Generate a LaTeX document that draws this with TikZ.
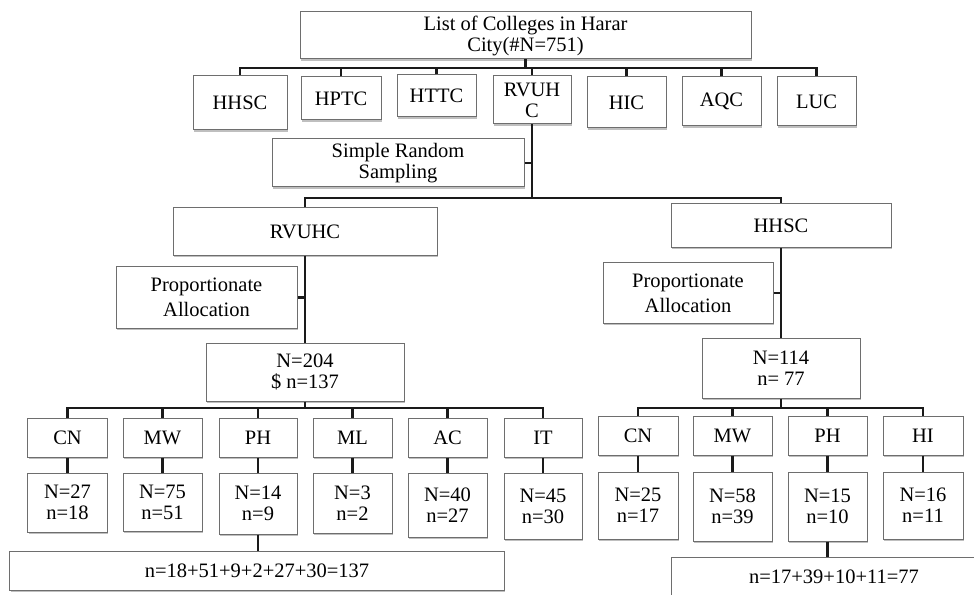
\documentclass[tikz,border=0pt]{standalone}
\usepackage{fontspec}
\setmainfont{Liberation Serif}
\usetikzlibrary{shadows}
\definecolor{boxline}{HTML}{6E6E6E}
\definecolor{conline}{HTML}{1A1A1A}
\tikzset{
  box/.style={draw=boxline, line width=1bp, fill=white, align=center, inner sep=1bp,
    font=\fontsize{20.5bp}{21bp}\selectfont,
    drop shadow={shadow xshift=1.4bp, shadow yshift=-2bp, fill=black, opacity=0.25}},
  loose/.style={font=\fontsize{20.5bp}{25bp}\selectfont},
  conn/.style={draw=conline, line width=2.4bp},
}
\begin{document}
\begin{tikzpicture}[x=1bp,y=-1bp]
\useasboundingbox (0,0) rectangle (974,595);
\clip (0,0) rectangle (974,595);
% level 0
\node[box, minimum width=451bp, minimum height=47bp] (top) at (525.5,35.5) {List of Colleges in Harar\\ City(\#N=751)};
% level 1
\node[box, minimum width=94bp, minimum height=54bp] (hhsc1) at (240,103) {HHSC};
\node[box, minimum width=80bp, minimum height=43bp] (hptc) at (341,98.5) {HPTC};
\node[box, minimum width=79bp, minimum height=42bp] (httc) at (436.5,96) {HTTC};
\node[box, minimum width=78bp, minimum height=48bp] (rv1) at (532,100) {RVUH\\C};
\node[box, minimum width=79bp, minimum height=51bp] (hic) at (626.5,102.5) {HIC};
\node[box, minimum width=79bp, minimum height=49bp] (aqc) at (721.5,101.5) {AQC};
\node[box, minimum width=79bp, minimum height=49bp] (luc) at (816.5,101.5) {LUC};
% sampling
\node[box, minimum width=252bp, minimum height=48bp] (srs) at (398,163) {Simple Random\\ Sampling};
\node[box, minimum width=264bp, minimum height=47bp] (rv2) at (305,231.5) {RVUHC};
\node[box, minimum width=220bp, minimum height=43bp] (hh2) at (781,225.5) {HHSC};
\node[box, loose, minimum width=181bp, minimum height=61bp] (pal) at (206.5,297.5) {Proportionate\\ Allocation};
\node[box, loose, minimum width=170bp, minimum height=60bp] (par) at (688,293) {Proportionate\\ Allocation};
\node[box, minimum width=198bp, minimum height=58bp] (n204) at (305,372) {N=204\\ \$ n=137};
\node[box, minimum width=158bp, minimum height=60bp] (n114) at (781,368) {N=114\\ n= 77};
% left strata
\node[box, minimum width=79bp, minimum height=39bp] (lcn) at (67.5,437.5) {CN};
\node[box, minimum width=79bp, minimum height=39bp] (lmw) at (162.5,437.5) {MW};
\node[box, minimum width=78bp, minimum height=39bp] (lph) at (258,437.5) {PH};
\node[box, minimum width=79bp, minimum height=39bp] (lml) at (352.5,437.5) {ML};
\node[box, minimum width=79bp, minimum height=39bp] (lac) at (447.5,437.5) {AC};
\node[box, minimum width=78bp, minimum height=39bp] (lit) at (543,437.5) {IT};
\node[box, minimum width=79bp, minimum height=59bp] (lcnN) at (67.5,502.5) {N=27\\ n=18};
\node[box, minimum width=79bp, minimum height=58bp] (lmwN) at (162.5,502) {N=75\\ n=51};
\node[box, minimum width=78bp, minimum height=61bp] (lphN) at (258,503.5) {N=14\\ n=9};
\node[box, minimum width=79bp, minimum height=60bp] (lmlN) at (352.5,503) {N=3\\ n=2};
\node[box, minimum width=79bp, minimum height=64bp] (lacN) at (447.5,505) {N=40\\ n=27};
\node[box, minimum width=78bp, minimum height=66bp] (litN) at (543,506) {N=45\\ n=30};
\node[box, minimum width=494bp, minimum height=39bp] (lsum) at (257,570.5) {n=18+51+9+2+27+30=137};
% right strata
\node[box, minimum width=80bp, minimum height=39bp] (rcn) at (638,435.5) {CN};
\node[box, minimum width=79bp, minimum height=39bp] (rmw) at (732.5,435.5) {MW};
\node[box, minimum width=79bp, minimum height=39bp] (rph) at (827.5,435.5) {PH};
\node[box, minimum width=80bp, minimum height=39bp] (rhi) at (923,435.5) {HI};
\node[box, minimum width=80bp, minimum height=67bp] (rcnN) at (638,505.5) {N=25\\ n=17};
\node[box, minimum width=79bp, minimum height=69bp] (rmwN) at (732.5,506.5) {N=58\\ n=39};
\node[box, minimum width=79bp, minimum height=69bp] (rphN) at (827.5,506.5) {N=15\\ n=10};
\node[box, minimum width=80bp, minimum height=67bp] (rhiN) at (923,505.5) {N=16\\ n=11};
\node[box, minimum width=326bp, minimum height=40bp] (rsum) at (834,577) {n=17+39+10+11=77};
% bus coordinates
\coordinate (bus0) at (0,68);
\coordinate (bus1) at (0,198);
\coordinate (bus2) at (0,408);
% connectors level 0 -> 1
\draw[conn] (top.south) -- (top.south |- bus0);
\draw[conn] (hhsc1.north) -- (hhsc1.north |- bus0) -- (luc.north |- bus0) -- (luc.north);
\foreach \n in {hptc,httc,rv1,hic,aqc} \draw[conn] (\n.north) -- (\n.north |- bus0);
% level 1 -> 2
\draw[conn] (rv1.south) -- (rv1.south |- bus1);
\draw[conn] (srs.east) -- (srs.east -| rv1.south);
\draw[conn] (rv2.north) -- (rv2.north |- bus1) -- (hh2.north |- bus1) -- (hh2.north);
% left branch
\draw[conn] (rv2.south) -- (n204.north);
\draw[conn] (pal.east) -- (pal.east -| rv2.south);
\draw[conn] (n204.south) -- (n204.south |- bus2);
\draw[conn] (lcn.north) -- (lcn.north |- bus2) -- (lit.north |- bus2) -- (lit.north);
\foreach \n in {lmw,lph,lml,lac} \draw[conn] (\n.north) -- (\n.north |- bus2);
\foreach \n in {lcn,lmw,lph,lml,lac,lit} \draw[conn] (\n.south) -- (\n N.north);
\draw[conn] (lphN.south) -- (lphN.south |- lsum.north);
% right branch
\draw[conn] (hh2.south) -- (n114.north);
\draw[conn] (par.east) -- (par.east -| hh2.south);
\draw[conn] (n114.south) -- (n114.south |- bus2);
\draw[conn] (rcn.north) -- (rcn.north |- bus2) -- (rhi.north |- bus2) -- (rhi.north);
\foreach \n in {rmw,rph} \draw[conn] (\n.north) -- (\n.north |- bus2);
\foreach \n in {rcn,rmw,rph,rhi} \draw[conn] (\n.south) -- (\n N.north);
\draw[conn] (rphN.south) -- (rphN.south |- rsum.north);
\end{tikzpicture}
\end{document}
